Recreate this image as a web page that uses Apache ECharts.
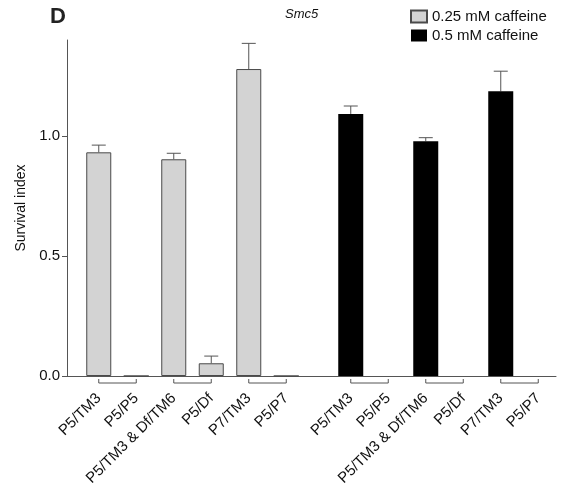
<!DOCTYPE html>
<html>
<head>
<meta charset="utf-8">
<script src="https://cdn.jsdelivr.net/npm/echarts@6/dist/echarts.min.js"></script>
<style>
  html, body { margin: 0; padding: 0; background: #fff; }
  #main { width: 574px; height: 495px; }
</style>
</head>
<body>
<div id="main"></div>
<script>
// 类别和数据
var categories = ['P5/TM3', 'P5/P5', 'P5/TM3 & Df/TM6', 'P5/Df', 'P7/TM3', 'P5/P7'];
var lowCaffeine = [0.932, 0, 0.903, 0.053, 1.279, 0];
var lowCaffeineErr = [0.962, null, 0.928, 0.083, 1.386, null];
var highCaffeine = [1.092, 0, 0.978, 0, 1.186, 0];
var highCaffeineErr = [1.125, null, 0.993, null, 1.27, null];
var pairs = [[0, 1], [2, 3], [4, 5]];
var yTicks = [0, 0.5, 1.0];

var font = 'Liberation Sans, Arial, sans-serif';
var axisColor = '#555';

var myChart = echarts.init(document.getElementById('main'));

function errData(vals, errs) {
  var out = [];
  errs.forEach(function (e, i) {
    if (e != null) out.push([i, e, vals[i]]);
  });
  return out;
}

// 误差线（只画上半）
function renderErr(params, api) {
  var top = api.coord([api.value(0), api.value(1)]);
  var base = api.coord([api.value(0), api.value(2)]);
  var half = 7;
  return {
    type: 'group',
    children: [
      { type: 'line', shape: { x1: top[0], y1: top[1], x2: base[0], y2: base[1] },
        style: { stroke: axisColor, lineWidth: 1 } },
      { type: 'line', shape: { x1: top[0] - half, y1: top[1], x2: top[0] + half, y2: top[1] },
        style: { stroke: axisColor, lineWidth: 1 } }
    ]
  };
}

// 横轴下面的括号
function renderBracket(params, api) {
  var a = api.coord([api.value(0), 0]);
  var b = api.coord([api.value(1), 0]);
  var y = a[1] + 7;
  return {
    type: 'polyline',
    shape: { points: [[a[0], y - 4], [a[0], y], [b[0], y], [b[0], y - 4]] },
    style: { stroke: axisColor, lineWidth: 1, fill: null }
  };
}

function groupAxis(idx) {
  return {
    type: 'category',
    gridIndex: idx,
    data: categories,
    axisLine: { show: false },
    axisTick: { show: false },
    axisLabel: { interval: 0, rotate: 45, margin: 20, fontSize: 15, color: '#111', fontFamily: font }
  };
}

function hiddenY(idx) {
  return { type: 'value', gridIndex: idx, min: 0, max: 1.4, show: false, splitLine: { show: false } };
}

var option = {
  animation: false,
  title: [
    { text: 'D', left: 50, top: 6, padding: 0,
      textStyle: { fontSize: 22, fontWeight: 'bold', color: '#222', fontFamily: font } },
    { text: 'Smc5', left: 285, top: 8, padding: 0,
      textStyle: { fontSize: 13, fontStyle: 'italic', fontWeight: 'normal', color: '#111', fontFamily: font } }
  ],
  legend: {
    orient: 'vertical',
    left: 410,
    top: 9,
    padding: 0,
    itemWidth: 16,
    itemHeight: 12,
    itemGap: 4,
    icon: 'rect',
    data: ['0.25 mM caffeine', '0.5 mM caffeine'],
    textStyle: { fontSize: 15, color: '#111', fontFamily: font }
  },
  grid: [
    { left: 67, right: 18, top: 40, bottom: 119 },
    { left: 80, width: 225, top: 40, bottom: 119 },
    { left: 332, width: 225, top: 40, bottom: 119 }
  ],
  xAxis: [
    { type: 'value', gridIndex: 0, min: 0, max: 1,
      axisLine: { show: true, lineStyle: { color: axisColor } },
      axisTick: { show: false }, axisLabel: { show: false }, splitLine: { show: false } },
    groupAxis(1),
    groupAxis(2)
  ],
  yAxis: [
    { type: 'value', gridIndex: 0, min: 0, max: 1.4, interval: 0.5,
      name: 'Survival index', nameLocation: 'middle', nameGap: 39,
      nameTextStyle: { fontSize: 14, color: '#111', fontFamily: font },
      axisLine: { show: true, lineStyle: { color: axisColor } },
      axisTick: { show: true, length: 5, customValues: yTicks, lineStyle: { color: axisColor } },
      axisLabel: { customValues: yTicks, fontSize: 15, color: '#111', fontFamily: font, margin: 7,
        formatter: function (v) { return v.toFixed(1); } },
      splitLine: { show: false } },
    hiddenY(1),
    hiddenY(2)
  ],
  series: [
    { name: '0.25 mM caffeine', type: 'bar', xAxisIndex: 1, yAxisIndex: 1, barWidth: 25,
      data: lowCaffeine, itemStyle: { color: '#d3d3d3', borderColor: '#4a4a4a', borderWidth: 1 } },
    { name: '0.5 mM caffeine', type: 'bar', xAxisIndex: 2, yAxisIndex: 2, barWidth: 25,
      data: highCaffeine, itemStyle: { color: '#000' } },
    { type: 'custom', xAxisIndex: 1, yAxisIndex: 1, renderItem: renderErr,
      encode: { x: 0, y: [1, 2] }, data: errData(lowCaffeine, lowCaffeineErr), z: 3 },
    { type: 'custom', xAxisIndex: 2, yAxisIndex: 2, renderItem: renderErr,
      encode: { x: 0, y: [1, 2] }, data: errData(highCaffeine, highCaffeineErr), z: 1 },
    { type: 'custom', xAxisIndex: 1, yAxisIndex: 1, renderItem: renderBracket, clip: false,
      encode: { x: [0, 1], y: 2 }, data: pairs.map(function (p) { return [p[0], p[1], 0]; }) },
    { type: 'custom', xAxisIndex: 2, yAxisIndex: 2, renderItem: renderBracket, clip: false,
      encode: { x: [0, 1], y: 2 }, data: pairs.map(function (p) { return [p[0], p[1], 0]; }) }
  ]
};
myChart.setOption(option);
</script>
</body>
</html>
